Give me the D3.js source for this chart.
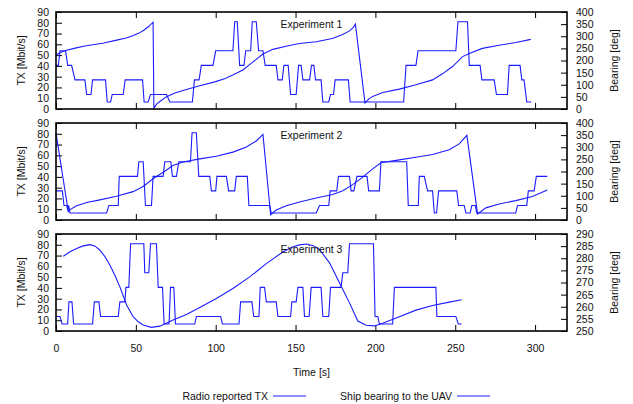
<!DOCTYPE html>
<html>
<head>
<meta charset="utf-8">
<script src="https://cdn.jsdelivr.net/npm/d3@7"></script>
<style>
  body { margin: 0; background: #fff; }
  text { font-family: 'Liberation Sans', Arial, Helvetica, sans-serif; font-size: 10.5px; fill: #111; }
</style>
</head>
<body>
<svg id="container"></svg>
<script>
// tick labels
const timeTicks = [0, 50, 100, 150, 200, 250, 300]
const txTicks = [0, 10, 20, 30, 40, 50, 60, 70, 80, 90]
const bearingTicks = [0, 50, 100, 150, 200, 250, 300, 350, 400]
const bearingTicks3 = [250, 255, 260, 265, 270, 275, 280, 285, 290]
const experiments = ['Experiment 1', 'Experiment 2', 'Experiment 3']
const legendNames = ['Radio reported TX', 'Ship bearing to the UAV']

// [time s, TX Mbit/s]
const tx1 = [
  [0, 40.5], [1.5, 40.5], [2.5, 54], [6, 54], [7.3, 40.5], [9.8, 40.5], [11.9, 27], [18.1, 27],
  [19.2, 13.5], [21.9, 13.5], [22.9, 27], [31, 27], [32.1, 6.5], [34.2, 6.5], [35.2, 13.5],
  [42.1, 13.5], [43.3, 27], [54.2, 27], [55.2, 6.5], [57.7, 6.5], [59.2, 13.5], [69.2, 13.5],
  [71.3, 6.5], [85.4, 6.5], [86.7, 27], [89.6, 27], [91, 40.5], [98.3, 40.5], [100, 54],
  [110.8, 54], [111.9, 81], [113.5, 81], [115, 40.5], [117.7, 40.5], [118.8, 54], [121.9, 54],
  [122.9, 81], [125.4, 81], [126.9, 54], [129.6, 54], [131, 40.5], [137.9, 40.5], [139, 27],
  [141.7, 27], [142.7, 40.5], [145.4, 40.5], [146.9, 13.5], [150.4, 13.5], [151.9, 40.5],
  [153.5, 40.5], [154.6, 27], [158.8, 27], [160, 40.5], [161.5, 40.5], [162.5, 27], [166, 27],
  [167.1, 6.5], [170.8, 6.5], [171.9, 13.5], [173.8, 13.5], [174.8, 27], [183.1, 27],
  [184.2, 6.5], [217.7, 6.5], [219.2, 40.5], [225.4, 40.5], [226.7, 54], [250.4, 54],
  [251.7, 81], [257.7, 81], [258.8, 40.5], [265.6, 40.5], [266.7, 27], [274.4, 27],
  [275.8, 13.5], [282.7, 13.5], [283.8, 40.5], [290.6, 40.5], [291.7, 27], [293.1, 27],
  [294.8, 6.5], [297.7, 6.5]
]
const tx2 = [
  [0, 27], [4, 27], [5, 13.5], [6.7, 13.5], [7.4, 9], [7.9, 13.5], [8.8, 6.5], [31.7, 6.5],
  [33.1, 13.5], [39, 13.5], [39.6, 40.5], [51, 40.5], [51.9, 54], [54.6, 54], [56, 13.5],
  [59.8, 13.5], [60.8, 40.5], [67.1, 40.5], [68.1, 54], [71.9, 54], [72.9, 40.5], [75.4, 40.5],
  [76.9, 54], [84.2, 54], [85.2, 81], [87.9, 81], [89.4, 40.5], [96.3, 40.5], [97.3, 27],
  [100, 27], [100.8, 40.5], [106.7, 40.5], [108.1, 27], [111.9, 27], [112.9, 40.5],
  [119.8, 40.5], [120.8, 13.5], [133.8, 13.5], [134.8, 6.5], [163, 6.5], [165, 13.5],
  [170.8, 13.5], [171.7, 27], [175.8, 27], [176.9, 40.5], [183.8, 40.5], [184.8, 27],
  [186.5, 27], [188.5, 40.5], [194.8, 40.5], [195.8, 27], [202.5, 27], [203.5, 54],
  [219.6, 54], [220.6, 13.5], [226.9, 13.5], [227.5, 40.5], [230.6, 40.5], [232.7, 27],
  [235.8, 27], [236.9, 6.5], [238.3, 6.5], [239.6, 27], [251, 27], [252.1, 13.5],
  [255.6, 13.5], [256.7, 6.5], [259.4, 6.5], [260.4, 13.5], [262.5, 13.5], [263.5, 6.5],
  [287.9, 6.5], [289, 13.5], [294.8, 13.5], [295.8, 27], [299.4, 27], [300.8, 40.5],
  [307.7, 40.5]
]
const tx3 = [
  [0, 13.5], [2.5, 13.5], [3.8, 6.5], [7.3, 6.5], [8.1, 27], [10, 27], [11, 6.5], [22.9, 6.5],
  [24, 27], [26.9, 27], [27.9, 13.5], [39, 13.5], [40, 27], [43.1, 27], [43.8, 40.5],
  [45.6, 40.5], [46.7, 81], [55, 81], [55.6, 54], [58.1, 54], [59.2, 81], [62.9, 81],
  [64, 40.5], [66.7, 40.5], [67.7, 6.5], [70.8, 6.5], [71.7, 40.5], [73.8, 40.5], [74.8, 6.5],
  [86.9, 6.5], [87.9, 13.5], [103.1, 13.5], [104.2, 6.5], [114.6, 6.5], [115.6, 27],
  [122.7, 27], [123.8, 13.5], [127.1, 13.5], [127.9, 40.5], [130.6, 40.5], [131.7, 27],
  [137.9, 27], [139, 13.5], [146.9, 13.5], [147.7, 27], [150.4, 27], [151.5, 40.5],
  [154.6, 40.5], [155.6, 13.5], [158.5, 13.5], [159.8, 40.5], [166, 40.5], [167.1, 13.5],
  [170.8, 13.5], [171.9, 40.5], [178.5, 40.5], [179.6, 54], [182.7, 54], [183.8, 81],
  [198.8, 81], [199.8, 13.5], [201.5, 13.5], [202.5, 6.5], [210.8, 6.5], [211.9, 40.5],
  [237.9, 40.5], [238.5, 13.5], [250.4, 13.5], [251.9, 6.5], [254, 6.5]
]

// [time s, bearing deg]
const bearing1 = [
  [0, 223], [3, 234], [6, 241], [12, 251], [18, 260], [24, 266], [30, 272], [38, 284],
  [44, 293], [48, 302], [52, 313], [55, 325], [58, 340], [60.8, 358], [61.3, 3], [63, 20],
  [65, 31], [69, 50], [74, 65], [80, 77], [90, 96], [100, 113], [106, 126], [111, 141],
  [117, 161], [123, 192], [129.6, 227], [135.8, 246], [144, 259], [152.5, 270], [163, 277],
  [173, 291], [179.6, 307], [183.8, 322], [186, 335], [187.5, 350], [193.5, 25], [196, 42],
  [198.3, 52], [204.6, 68], [215, 82], [225.4, 100], [235.8, 120], [242, 145], [248.3, 175],
  [254.6, 216], [258.8, 229], [267, 250], [277.5, 263], [288, 274], [297.3, 287]
]
const bearing2 = [
  [0, 358], [7.7, 34], [8.8, 43], [12.9, 59], [19.2, 72], [27.5, 83], [37.9, 98], [48.3, 117],
  [54.6, 138], [60.8, 170], [67.1, 197], [73.3, 225], [79.6, 239], [90, 252], [100.4, 263],
  [110.8, 280], [119.2, 301], [125.4, 326], [129.6, 353], [134.4, 21], [137.9, 41],
  [144.2, 59], [152.5, 74], [162.9, 91], [173.3, 105], [179.6, 121], [185.8, 146],
  [192.1, 177], [198.3, 211], [203.5, 236], [215, 248], [225.4, 259], [235.8, 270],
  [246.3, 290], [252.5, 314], [257.3, 349], [264, 25], [269.2, 50], [277.5, 66],
  [287.9, 80], [298.3, 97], [307.7, 124]
]
const bearing3 = [
  [4.6, 280.8], [8.5, 282.6], [12.9, 284], [17, 285.1], [21.3, 285.6], [24.5, 285],
  [27.5, 283.3], [30.5, 280.8], [33.8, 277.1], [37, 272.8], [40, 268.2], [44.2, 260.7],
  [48.3, 255.9], [51.5, 253.8], [54.6, 252.5], [59.8, 251.5], [65, 252], [73.3, 254.5],
  [81.7, 256.8], [90, 259.7], [100.4, 263.4], [110.8, 267.5], [121.3, 272.3], [131.7, 277.8],
  [142.1, 282.6], [148, 284.6], [152.5, 285.5], [157, 285.9], [161, 285.2], [165, 283.6],
  [171.3, 278.1], [177.5, 269.9], [183.8, 261.6], [189, 254.1], [194.2, 252.4], [199.4, 252.1],
  [204.6, 253.2], [215, 255.9], [225.4, 258.6], [235.8, 260.5], [246.3, 261.9], [254, 262.9]
]

const panels = [
  { title: experiments[0], tx: tx1, bearing: bearing1, bTicks: bearingTicks },
  { title: experiments[1], tx: tx2, bearing: bearing2, bTicks: bearingTicks },
  { title: experiments[2], tx: tx3, bearing: bearing3, bTicks: bearingTicks3 }
]

const W = 633
const H = 404
const left = 56
const right = 567
const panelTop = [12, 123, 234]
const panelH = 97
const lineColor = '#1c1cff'

const svg = d3.select('#container').attr('width', W).attr('height', H)

const x = d3.scaleLinear().domain([0, 320]).range([left, right])

panels.forEach((p, i) => {
  const g = svg.append('g').attr('transform', `translate(0,${panelTop[i]})`)

  const yTx = d3.scaleLinear().domain([0, 90]).range([panelH, 0])
  const yB = d3
    .scaleLinear()
    .domain(d3.extent(p.bTicks))
    .range([panelH, 0])

  // y axis (left)
  g.append('g')
    .attr('class', 'axis')
    .attr('transform', `translate(${left},0)`)
    .call(d3.axisLeft(yTx).tickValues(txTicks).tickSize(-6).tickPadding(7))

  // y2 axis (right)
  g.append('g')
    .attr('class', 'axis')
    .attr('transform', `translate(${right},0)`)
    .call(d3.axisRight(yB).tickValues(p.bTicks).tickSize(-6).tickPadding(9))

  // x ticks at top and bottom, labels only on the last panel
  g.append('g')
    .attr('class', 'axis')
    .attr('transform', `translate(0,${panelH})`)
    .call(
      d3
        .axisBottom(x)
        .tickValues(timeTicks)
        .tickSize(-6)
        .tickPadding(14)
        .tickFormat(i === 2 ? d3.format('d') : '')
    )
  g.append('g')
    .attr('class', 'axis')
    .call(d3.axisTop(x).tickValues(timeTicks).tickSize(-6).tickFormat(''))

  // series
  g.append('path')
    .datum(p.tx)
    .attr('fill', 'none')
    .attr('stroke', lineColor)
    .attr('stroke-width', 1.1)
    .attr('d', d3.line().x(d => x(d[0])).y(d => yTx(d[1])))

  g.append('path')
    .datum(p.bearing)
    .attr('fill', 'none')
    .attr('stroke', lineColor)
    .attr('stroke-width', 1.1)
    .attr('d', d3.line().x(d => x(d[0])).y(d => yB(d[1])))

  // border
  g.append('rect')
    .attr('x', left)
    .attr('y', 0)
    .attr('width', right - left)
    .attr('height', panelH)
    .attr('fill', 'none')
    .attr('stroke', '#000')
    .attr('stroke-width', 1.6)

  g.append('text')
    .attr('x', (left + right) / 2)
    .attr('y', i === 2 ? 18.5 : 15.5)
    .attr('text-anchor', 'middle')
    .text(p.title)

  g.append('text')
    .attr('transform', `translate(21,${panelH / 2}) rotate(-90)`)
    .attr('text-anchor', 'middle')
    .attr('dy', '0.35em')
    .text('TX [Mbit/s]')

  g.append('text')
    .attr('transform', `translate(614,${panelH / 2}) rotate(-90)`)
    .attr('text-anchor', 'middle')
    .attr('dy', '0.35em')
    .text('Bearing [deg]')
})

svg.selectAll('.axis .domain').remove()
svg.selectAll('.axis line').attr('stroke', '#000')
svg.selectAll('.axis text').style('font-size', '10.5px').attr('fill', '#111')

svg.append('text')
  .attr('x', (left + right) / 2)
  .attr('y', 376)
  .attr('text-anchor', 'middle')
  .text('Time [s]')

// legend
const legendX = [268, 452]
legendNames.forEach((name, i) => {
  svg.append('text')
    .attr('x', legendX[i])
    .attr('y', 399.5)
    .attr('text-anchor', 'end')
    .text(name)
  svg.append('line')
    .attr('x1', legendX[i] + 5)
    .attr('x2', legendX[i] + 38)
    .attr('y1', 396)
    .attr('y2', 396)
    .attr('stroke', lineColor)
    .attr('stroke-width', 1.1)
})
</script>
</body>
</html>
